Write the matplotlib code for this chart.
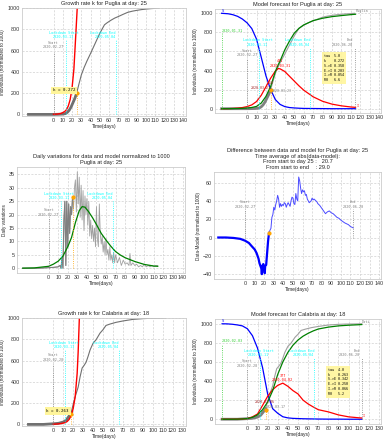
import numpy as np
import matplotlib.pyplot as plt

# ---- Puglia, day 25 ----
days_p = [-27, -20, -10, 0, 5, 10, 13, 15, 17, 19, 21, 23, 25, 27, 30, 33, 36, 40, 45, 50, 55, 58, 62, 66,
          70, 75, 80, 85, 90, 95, 100, 105, 110, 114]
cum_p = [0, 0, 0, 0, 1, 3, 8, 20, 40, 70, 110, 150, 200, 270, 370, 440, 500, 573, 668, 763, 842, 862, 885, 905,
         920, 940, 959, 970, 978, 985, 990, 994, 997, 1000]
exp_x_p = [0, 4, 8, 12, 14, 16, 18, 20, 22, 24, 25.6]
exp_y_p = [1, 3, 9, 26, 45, 80, 140, 246, 425, 740, 1000]

model_x_p = [-27, -20, -15, -10, -5, 0, 5, 10, 15, 20, 25, 30, 33, 35, 40, 45, 50, 55, 60, 70, 80, 90, 100, 110, 115]
S_p = [1000, 995, 985, 968, 940, 900, 840, 730, 540, 345, 200, 95, 65, 45, 22, 12, 8, 5, 3, 2, 1, 0, 0, 0, 0]
I_p = [0, 1, 3, 6, 12, 22, 40, 75, 140, 230, 320, 395, 421, 418, 390, 340, 290, 240, 195, 125, 78, 48, 30, 18, 14]
R_p = [0, 0, 1, 2, 4, 7, 13, 24, 59, 129, 233, 390, 460, 500, 617, 710, 791, 842, 878, 923, 948, 965, 976, 986, 990]
params_p = ['tau', 'k', 'S->E', 'E->I', 'I->R', 'R0']
values_p = ['5.0', '0.272', '0.358', '0.203', '0.054', '6.6']

daily_x_p = [-27, -10, 0, 5, 10, 12, 13, 14, 15, 16, 17, 18, 19, 20, 21, 22, 23, 24, 25, 26, 27, 28, 29, 30, 31, 32,
             33, 34, 35, 36, 37, 38, 39, 40, 41, 42, 43, 44, 45, 46, 47, 48, 49, 50, 51, 52, 53, 54, 55, 56, 57, 58,
             59, 60, 61, 62, 63, 64, 65, 66, 67, 68, 69, 70, 72, 74, 76, 78, 80, 82, 84, 85, 86, 88, 90, 92, 94, 96,
             98, 100, 102, 104, 106, 108, 110, 112, 114]
daily_y_p = [0, 0, 0.2, 0.3, 0.5, 1, 0, 4, 0, 18, 25, 1, 25, 8, 24, 13, 23, 20, 26.5, 22, 30, 33, 21, 36, 24, 34,
             19, 31, 18, 29, 14, 27, 20, 26, 16, 25, 12, 18, 11, 16, 10, 15, 8, 23, 11, 8, 24, 13, 9, 12, 6, 10,
             5, 11, 5, 7, 3, 8, 3, 5, 2, 6, 2, 5, 2, 4, 1, 3, 1.5, 2, 1, 5.5, 1, 2, 1, 1.5, 0.5, 1,
             0.5, 1.5, 0.5, 1, 0.5, 1, 0.5, 1, 1]
daily_mx_p = [-27, -15, 0, 5, 10, 15, 20, 24, 28, 32, 35, 38, 42, 46, 50, 55, 60, 65, 70, 75, 80, 90, 100, 110, 114]
daily_my_p = [0, 0.1, 0.7, 1.5, 2.6, 4.5, 8, 11.5, 17, 21.5, 23, 22.8, 21, 18.8, 16.3, 13, 10.5, 8.2, 6.2, 4.9, 3.9,
              2.5, 1.4, 0.8, 0.7]

diff_x1_p = [-28, -20, -12, -5, 0, 4, 7, 10, 12, 14, 15, 16, 17, 17.5, 18, 19, 20, 20.5, 21, 22, 23, 24, 25]
diff_y1_p = [0, 0, -0.5, -1.5, -3.5, -6, -9.6, -13, -17, -23, -28, -31, -34, -40, -31, -29, -33, -39, -31, -30,
             -17, -4, 5]
diff_x2_p = list(range(25, 77)) + list(range(78, 113, 2)) + [113]
diff_y2_p = [5, 8, 10, 22, 25, 33, 30, 36, 40, 46, 42, 33, 37, 34, 36, 35, 38, 37, 33, 36,
             38, 36, 34, 40, 44, 43, 37, 36, 48, 42, 40, 66, 62, 54, 48, 52, 50, 51, 46, 47,
             42, 40, 38, 39, 40, 43, 41, 42, 41, 40, 39, 37,
             35, 32, 29, 26, 28, 29, 27, 26, 24, 22, 21, 19, 17.5, 16, 15, 14, 12, 11, 10.5]

# ---- Calabria, day 18 ----
days_c = [-25, -10, 0, 5, 10, 13, 16, 18, 20, 22, 25, 27, 29, 31, 33, 35, 37, 40, 43, 47, 50, 53, 57, 63, 70, 80,
          90, 97, 105, 113]
cum_c = [0, 0, 6, 10, 22, 40, 80, 110, 190, 260, 350, 450, 530, 555, 585, 640, 700, 763, 795, 858, 890, 930, 943,
         959, 972, 987, 994, 997, 998, 1000]
exp_x_c = [0, 4, 8, 12, 14, 16, 18, 20, 22, 24, 25, 26.2]
exp_y_c = [2, 4, 8, 17, 28, 48, 85, 150, 260, 480, 680, 1000]

model_x_c = [-25, -20, -15, -10, -5, 0, 5, 10, 15, 20, 25, 30, 35, 40, 45, 50, 55, 60, 65, 70, 80, 90, 100, 110, 113]
S_c = [1000, 999, 995, 988, 978, 948, 875, 745, 540, 265, 110, 62, 26, 14, 9, 7, 5, 4, 3, 2, 1, 1, 0, 0, 0]
I_c = [0, 0, 0, 1, 3, 7, 25, 55, 145, 240, 310, 355, 378, 345, 300, 265, 200, 160, 129, 100, 77, 45, 25, 15, 13]
R_c = [0, 0, 0, 1, 3, 7, 20, 45, 100, 180, 300, 470, 600, 700, 775, 830, 870, 900, 925, 945, 965, 978, 985, 990, 992]
params_c = ['tau', 'k', 'S->E', 'E->I', 'I->R', 'R0']
values_c = ['4.0', '0.263', '0.342', '0.250', '0.066', '5.2']

W, H = 383, 440
fig = plt.figure(figsize=(W / 100, H / 100), dpi=100)
mono = 'DejaVu Sans Mono'
sans = 'Liberation Sans'


def box(l, t, r, b):
    return fig.add_axes([l / W, 1 - b / H, (r - l) / W, (b - t) / H])


def style(ax, xt, title, ylabel):
    ax.set_xticks(xt)
    ax.grid(True, color='#d0d0d0', lw=0.5, ls=(0, (3, 2)))
    for s in ax.spines.values():
        s.set_color('#cccccc')
        s.set_linewidth(0.6)
    ax.tick_params(length=0, labelsize=3.9, colors='#333333', pad=1.5)
    for t in ax.get_xticklabels() + ax.get_yticklabels():
        t.set_family(sans)
    ax.set_title(title, fontsize=4.1, family=sans, pad=2, color='#222222')
    ax.set_xlabel('Time(days)', fontsize=3.5, family=sans, labelpad=1, color='#222222')
    ax.set_ylabel(ylabel, fontsize=3.3, family=sans, labelpad=1.5, color='#222222')


def vline(ax, x, y, txt, ty, color, tx=None, ha='center'):
    ax.plot([x, x], [0, y], ls=':', color=color, lw=0.6)
    ax.text(x if tx is None else tx, ty, txt, color=color, fontsize=2.5, family=mono, ha=ha, va='bottom',
            linespacing=1.1)


def small(ax, x, y, txt, color, ha='center'):
    ax.text(x, y, txt, color=color, fontsize=2.4, family=mono, ha=ha, va='bottom')


def param_box(ax, x, y, names, vals):
    txt = '\n'.join(f'{n:<5}{v}' for n, v in zip(names, vals))
    ax.text(x, y, txt, fontsize=2.4, family=mono, va='top', ha='left', linespacing=1.3,
            bbox=dict(boxstyle='square,pad=0.6', fc='#fff59a', ec='none', alpha=0.9))


ylab = 'Individuals (normalized to 1000)'
xt140 = list(range(0, 150, 10))
xt130 = list(range(0, 140, 10))

# panel 1
ax1 = box(22, 8, 186, 116)
ax1.plot(days_p, cum_p, color='#707070', lw=0.8)
ax1.plot(days_p[:13], cum_p[:13], color='#707070', lw=2)
ax1.plot(exp_x_p, exp_y_p, color='red', lw=1.0)
vline(ax1, 0, 590, 'Start\n2020-02-27', 615, 'gray')
vline(ax1, 13, 700, 'Lockdown Start\n2020-03-11', 705, 'cyan', tx=11)
vline(ax1, 67, 700, 'Lockdown End\n2020-05-04', 705, 'cyan', tx=67, ha='right')
ax1.plot([25, 25], [0, 200], ls=':', color='orange', lw=0.6)
ax1.plot([25], [200], 'o', color='orange', ms=2)
ax1.text(-1, 225, 'k = 0.272', fontsize=3.0, family=mono, va='center',
         bbox=dict(boxstyle='square,pad=0.4', fc='#fff59a', ec='none'))
ax1.set_xlim(-34, 143)
ax1.set_ylim(-15, 1000)
style(ax1, xt140, 'Growth rate k for Puglia at day: 25', ylab)

# panel 2
ax2 = box(215, 9, 381, 113)
ax2.plot(days_p, cum_p, color='#a0a0a0', lw=0.8)
ax2.plot(days_p[:13], cum_p[:13], color='#808080', lw=2)
ax2.plot(model_x_p, S_p, color='blue', lw=0.9)
ax2.plot(model_x_p, I_p, color='red', lw=0.9)
ax2.plot(model_x_p, R_p, color='green', lw=0.9)
vline(ax2, -27, 790, '2020-01-31', 795, 'limegreen', tx=-27, ha='left')
vline(ax2, 0, 530, 'Start\n2020-02-27', 540, 'gray')
vline(ax2, 13, 640, 'Lockdown Start\n2020-03-11', 650, 'cyan', tx=11)
vline(ax2, 67, 640, 'Lockdown End\n2020-05-04', 650, 'cyan', tx=67, ha='right')
vline(ax2, 114, 640, 'End\n2020-06-20', 650, 'gray', tx=112, ha='right')
ax2.plot([25, 25], [0, 200], ls=':', color='orange', lw=0.6)
ax2.plot([25], [200], 'o', color='orange', ms=2)
ax2.text(35, 430, '421\n2020-03-31', color='red', fontsize=2.5, family=mono, ha='center', va='bottom')
small(ax2, 25, 250, '268', 'brown')
small(ax2, 25, 200, '2020-03-21', 'brown', ha='right')
small(ax2, 26, 165, '2020-03-23', 'gray', ha='left')
small(ax2, 116, 8, 'I', 'red', ha='left')
ax2.text(-27, 1005, 'S', color='blue', fontsize=2.8, family=mono, va='bottom')
ax2.text(115, 1000, 'Puglia', color='gray', fontsize=2.5, family=mono, va='bottom')
param_box(ax2, 82, 575, params_p, values_p)
ax2.set_xlim(-34, 142)
ax2.set_ylim(-45, 1045)
style(ax2, xt140, 'Model forecast for Puglia at day: 25', ylab)

# panel 3
ax3 = box(17, 167, 185, 273)
ax3.plot(daily_x_p, daily_y_p, color='#a0a0a0', lw=0.6)
ax3.plot(daily_x_p[:19], daily_y_p[:19], color='#808080', lw=0.8)
ax3.plot(daily_mx_p, daily_my_p, color='green', lw=0.9)
vline(ax3, 0, 19, 'Start\n2020-02-27', 19.3, 'gray')
vline(ax3, 13, 25, 'Lockdown Start\n2020-03-11', 25.3, 'cyan', tx=11)
vline(ax3, 67, 25, 'Lockdown End\n2020-05-04', 25.3, 'cyan', tx=67, ha='right')
ax3.plot([25, 25], [0, 26.5], ls=':', color='orange', lw=0.6)
ax3.plot([25], [26.5], 'o', color='orange', ms=2)
ax3.set_xlim(-33, 142.5)
ax3.set_ylim(-1.8, 37.8)
style(ax3, xt140, 'Daily variations for data and model normalized to 1000\nPuglia at day: 25', 'Daily variations')

# panel 4
ax4 = box(214, 172, 381, 279)
ax4.plot(diff_x1_p, diff_y1_p, color='blue', lw=1.6)
ax4.plot(diff_x2_p, diff_y2_p, color='#4a4aff', lw=0.7)
vline(ax4, 0, 31, 'Start\n2020-02-27', 31.5, 'gray')
vline(ax4, 113, 31, 'End\n2020-06-20', 31.5, 'gray')
ax4.plot([25], [5], 'o', color='orange', ms=2)
ax4.set_xlim(-32.5, 142)
ax4.set_ylim(-45.3, 71.5)
style(ax4, xt140, 'Difference between data and model for Puglia at day: 25\n'
      'Time average of abs(data-model):\nFrom start to day 25 :   20.7\nFrom start to end    : 29.0',
      'Data-Model (normalized to 1000)')

# panel 5
ax5 = box(22, 318, 186, 426)
ax5.plot(days_c, cum_c, color='#707070', lw=0.8)
ax5.plot(days_c[:8], cum_c[:8], color='#707070', lw=2)
ax5.plot(exp_x_c, exp_y_c, color='red', lw=1.0)
vline(ax5, 0, 570, 'Start\n2020-02-28', 590, 'gray')
vline(ax5, 12, 700, 'Lockdown Start\n2020-03-11', 705, 'cyan', tx=11)
vline(ax5, 66, 700, 'Lockdown End\n2020-05-04', 705, 'cyan', tx=66, ha='right')
ax5.plot([18, 18], [0, 100], ls=':', color='orange', lw=0.6)
ax5.plot([18], [100], 'o', color='orange', ms=2)
ax5.text(-7, 125, 'k = 0.263', fontsize=3.0, family=mono, va='center',
         bbox=dict(boxstyle='square,pad=0.4', fc='#fff59a', ec='none'))
ax5.set_xlim(-31.5, 133.5)
ax5.set_ylim(-15, 1000)
style(ax5, xt130, 'Growth rate k for Calabria at day: 18', ylab)

# panel 6
ax6 = box(215, 319, 381, 424)
ax6.plot(days_c, cum_c, color='#a0a0a0', lw=0.8)
ax6.plot(days_c[:8], cum_c[:8], color='#808080', lw=2)
ax6.plot(model_x_c, S_c, color='blue', lw=0.9)
ax6.plot(model_x_c, I_c, color='red', lw=0.9)
ax6.plot(model_x_c, R_c, color='green', lw=0.9)
vline(ax6, -25, 790, '2020-02-03', 795, 'limegreen', tx=-25, ha='left')
vline(ax6, 0, 530, 'Start\n2020-02-28', 540, 'gray')
vline(ax6, 12, 640, 'Lockdown Start\n2020-03-11', 650, 'cyan', tx=11)
vline(ax6, 66, 640, 'Lockdown End\n2020-05-04', 650, 'cyan', tx=66, ha='right')
vline(ax6, 113, 640, 'End\n2020-06-20', 650, 'gray', tx=111, ha='right')
ax6.plot([18, 18], [0, 100], ls=':', color='orange', lw=0.6)
ax6.plot([18], [100], 'o', color='orange', ms=2)
ax6.text(35, 385, '377\n2020-04-02', color='red', fontsize=2.5, family=mono, ha='center', va='bottom')
small(ax6, 17, 160, '2020-03-06', 'brown')
small(ax6, 28, 110, '2020-03-17', 'gray')
small(ax6, 114, 8, 'I', 'red', ha='left')
ax6.text(-25, 1005, 'S', color='blue', fontsize=2.8, family=mono, va='bottom')
ax6.text(113, 1000, 'Dati', color='gray', fontsize=2.5, family=mono, va='bottom')
param_box(ax6, 80, 540, params_c, values_c)
ax6.set_xlim(-32, 132)
ax6.set_ylim(-50, 1050)
style(ax6, xt130, 'Model forecast for Calabria at day: 18', ylab)

fig.savefig('out.png', dpi=100)
